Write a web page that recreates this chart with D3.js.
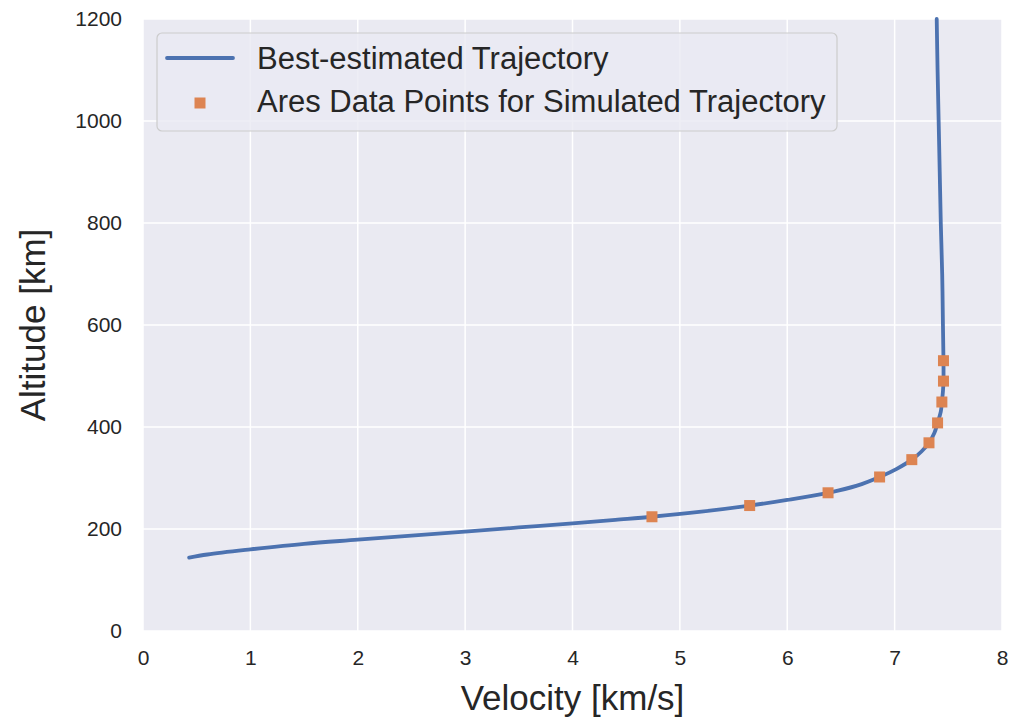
<!DOCTYPE html>
<html>
<head>
<meta charset="utf-8">
<script src="https://cdn.jsdelivr.net/npm/d3@7"></script>
<style>
body { margin:0; background:#fff; }
text { font-family: "Liberation Sans", Arial, sans-serif; fill:#262626; }
</style>
</head>
<body>
<svg id="svg" width="1020" height="719"></svg>
<script>
// trajectory
var curveVel = [0.43, 0.6, 1.0, 1.5, 2.0, 2.5, 3.0, 3.5, 4.0, 4.4, 4.74, 5.2, 5.65, 6.0, 6.38, 6.65, 6.86, 7.02, 7.16, 7.25, 7.32, 7.37, 7.40, 7.43, 7.44, 7.45, 7.455, 7.455, 7.45, 7.443, 7.43, 7.42, 7.41, 7.40, 7.392];
var curveAlt = [144, 150, 160, 171, 179, 187, 195, 203, 211, 218, 224, 234, 246, 257, 271, 285, 302, 318, 336, 352, 369, 388, 408, 430, 449, 470, 490, 530, 600, 700, 800, 900, 1000, 1100, 1200];

var aresVel = [4.74, 5.65, 6.38, 6.86, 7.16, 7.32, 7.40, 7.44, 7.455, 7.455];
var aresAlt = [224, 246, 271, 302, 336, 369, 408, 449, 490, 530];

var xTicks = [0, 1, 2, 3, 4, 5, 6, 7, 8];
var yTicks = [0, 200, 400, 600, 800, 1000, 1200];

var legendLabels = ["Best-estimated Trajectory", "Ares Data Points for Simulated Trajectory"];

var blue = "#4c72b0", orange = "#dd8452";

var mLeft = 143, mTop = 19, w = 859, h = 612;
var svg = d3.select("#svg");

var x = d3.scaleLinear().domain([0, 8]).range([mLeft, mLeft + w]);
var y = d3.scaleLinear().domain([0, 1200]).range([mTop + h, mTop]);

// background
svg.append("rect")
.attr("x", mLeft).attr("y", mTop)
.attr("width", w).attr("height", h)
.attr("fill", "#eaeaf2");

// grid
svg.append("g").selectAll("line").data(xTicks).enter().append("line")
.attr("x1", d => x(d)).attr("x2", d => x(d))
.attr("y1", mTop).attr("y2", mTop + h)
.attr("stroke", "#fff").attr("stroke-width", 1.5);
svg.append("g").selectAll("line").data(yTicks).enter().append("line")
.attr("x1", mLeft).attr("x2", mLeft + w)
.attr("y1", d => y(d)).attr("y2", d => y(d))
.attr("stroke", "#fff").attr("stroke-width", 1.5);

// axes (ticks only, no domain line)
svg.append("g")
.attr("transform", "translate(0," + (mTop + h) + ")")
.call(d3.axisBottom(x).tickValues(xTicks).tickSize(0).tickPadding(19).tickFormat(d3.format("d")));
svg.append("g")
.attr("transform", "translate(" + mLeft + ",0)")
.call(d3.axisLeft(y).tickValues(yTicks).tickSize(0).tickPadding(21).tickFormat(d3.format("d")));
svg.selectAll(".domain").remove();
svg.selectAll(".tick text")
.style("font-family", '"Liberation Sans", Arial, sans-serif')
.style("font-size", "21px")
.attr("fill", "#262626");

// axis labels
svg.append("text")
.attr("x", mLeft + w / 2).attr("y", 710)
.attr("text-anchor", "middle")
.style("font-size", "35px")
.text("Velocity [km/s]");
svg.append("text")
.attr("transform", "translate(45," + (mTop + h / 2) + ") rotate(-90)")
.attr("text-anchor", "middle")
.style("font-size", "35px")
.text("Altitude [km]");

// trajectory
var pts = curveVel.map((v, i) => [v, curveAlt[i]]);
var line = d3.line()
.x(d => x(d[0])).y(d => y(d[1]))
.curve(d3.curveCatmullRom.alpha(0.5));

var plot = svg.append("g");
plot.append("path")
.datum(pts)
.attr("d", line)
.attr("fill", "none")
.attr("stroke", blue)
.attr("stroke-width", 3.8)
.attr("stroke-linecap", "round")
.attr("stroke-linejoin", "round");

var ms = 11;
plot.selectAll("rect.ares").data(aresVel).enter().append("rect")
.attr("class", "ares")
.attr("x", (d, i) => x(d) - ms / 2)
.attr("y", (d, i) => y(aresAlt[i]) - ms / 2)
.attr("width", ms).attr("height", ms)
.attr("fill", orange);

// LEGEND
var lg = svg.append("g");
lg.append("rect")
.attr("x", 157).attr("y", 33)
.attr("width", 680).attr("height", 98)
.attr("rx", 5)
.attr("fill", "#eaeaf2").attr("fill-opacity", 0.8)
.attr("stroke", "#cccccc").attr("stroke-width", 1.2);

lg.append("line")
.attr("x1", 167).attr("x2", 233)
.attr("y1", 58).attr("y2", 58)
.attr("stroke", blue).attr("stroke-width", 3.8)
.attr("stroke-linecap", "round");
lg.append("rect")
.attr("x", 200 - 5.5).attr("y", 103 - 5.5)
.attr("width", 11).attr("height", 11)
.attr("fill", orange);

lg.selectAll("text.lab").data(legendLabels).enter().append("text")
.attr("class", "lab")
.attr("x", 257)
.attr("y", (d, i) => 69 + i * 43)
.style("font-size", "31px")
.text(d => d);
</script>
</body>
</html>
